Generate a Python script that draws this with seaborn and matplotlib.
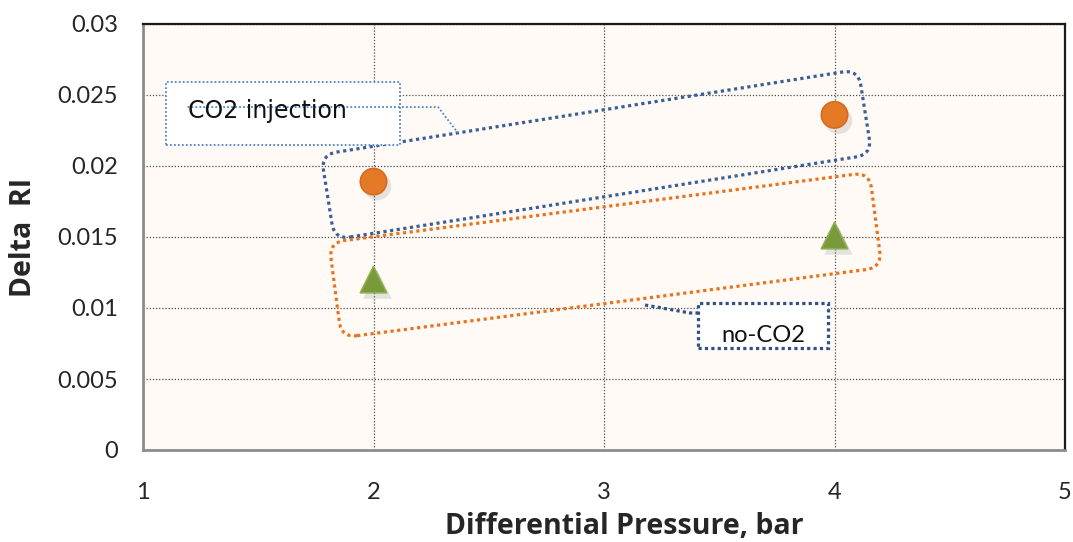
import numpy as np
import pandas as pd
import matplotlib
matplotlib.use("Agg")
import matplotlib.pyplot as plt
import seaborn as sns
from matplotlib.patches import FancyBboxPatch, Rectangle
from matplotlib.transforms import Affine2D, ScaledTranslation

# --- data -------------------------------------------------------------
pressure = [2, 4]
delta_ri_co2 = [0.0189, 0.0236]
delta_ri_no_co2 = [0.0120, 0.0151]
series_names = ["CO2 injection", "no-CO2"]
x_ticks = [1, 2, 3, 4, 5]
y_ticks = [0, 0.005, 0.01, 0.015, 0.02, 0.025, 0.03]
y_tick_labels = ["0", "0.005", "0.01", "0.015", "0.02", "0.025", "0.03"]

df = pd.DataFrame({
    "pressure": pressure * 2,
    "delta_ri": delta_ri_co2 + delta_ri_no_co2,
    "series": [series_names[0]] * 2 + [series_names[1]] * 2,
})

# --- style ------------------------------------------------------------
sns.set_style("white")
plt.rcParams["font.family"] = ["Lato", "DejaVu Sans"]
plt.rcParams["hatch.color"] = "#fbe6d4"
plt.rcParams["hatch.linewidth"] = 0.35

W, H = 1073, 542
fig = plt.figure(figsize=(W / 100, H / 100), dpi=100)
ax = fig.add_axes([143 / W, 1 - 450 / H, 922 / W, 426 / H])

ax.set_xlim(1, 5)
ax.set_ylim(0, 0.03)
ax.patch.set_facecolor("#fffaf6")
ax.patch.set_hatch("+++++")

# dotted major grid
ax.set_xticks(x_ticks)
ax.set_yticks(y_ticks)
ax.set_yticklabels(y_tick_labels)
ax.grid(True, color="#4d4d4d", linestyle=(0, (1, 1.5)), linewidth=0.9)
ax.set_axisbelow(True)

for side in ["left", "bottom"]:
    ax.spines[side].set_color("#8c8c8c")
    ax.spines[side].set_linewidth(2.0)
for side in ["top", "right"]:
    ax.spines[side].set_color("#1a1a1a")
    ax.spines[side].set_linewidth(1.6)

ax.tick_params(axis="x", length=0, pad=23, labelsize=17)
ax.tick_params(axis="y", length=0, pad=18, labelsize=17)

# --- callout frames (rotated rounded rectangles) -----------------------
def rotated_frame(cx, cy, w_px, h_px, angle, color, z):
    patch = FancyBboxPatch(
        (-w_px / 2, -h_px / 2), w_px, h_px,
        boxstyle="round,pad=0,rounding_size=16",
        facecolor="none", edgecolor=color, linewidth=2.3,
        linestyle=(0, (1, 1.1)), zorder=z,
        transform=Affine2D().rotate_deg(angle) + ScaledTranslation(cx, cy, ax.transData),
    )
    patch.set_capstyle("butt")
    ax.add_patch(patch)

rotated_frame(2.967, 0.02081, 544, 86, 9.0, "#3b5f94", 3)
rotated_frame(3.006, 0.01373, 545, 96, 7.4, "#e8731c", 3)

# --- markers with soft shadows ----------------------------------------
shadow = ax.transData + ScaledTranslation(2.5 / 72, -3.5 / 72, fig.dpi_scale_trans)
ax.scatter(pressure, delta_ri_co2, s=390, marker="o", color="#7f7f7f",
           alpha=0.2, linewidths=0, transform=shadow, zorder=4)
ax.scatter(pressure, delta_ri_no_co2, s=420, marker="^", color="#7f7f7f",
           alpha=0.2, linewidths=0, transform=shadow, zorder=4)

sns.scatterplot(
    data=df, x="pressure", y="delta_ri", hue="series", style="series",
    markers={series_names[0]: "o", series_names[1]: "^"},
    palette={series_names[0]: "#e57a26", series_names[1]: "#789a3b"},
    s=360, linewidth=1.2, edgecolor=["#d36c1e", "#d36c1e", "#8cae4e", "#8cae4e"],
    legend=False, ax=ax, zorder=5,
)

# --- callout label boxes ----------------------------------------------
ax.add_patch(Rectangle((1.10, 0.02148), 1.015, 0.00444, facecolor="white",
                       edgecolor="#4f86c9", linewidth=1.3,
                       linestyle=(0, (1, 1.2)), zorder=6))
ax.text(1.195, 0.02338, "CO2 injection", fontsize=17, family="DejaVu Sans",
        ha="left", va="baseline", color="#111111", zorder=7)
ax.plot([1.193, 2.280, 2.367], [0.02415, 0.02415, 0.02232], color="#4f86c9",
        linewidth=1.3, linestyle=(0, (1, 1.2)), zorder=6)

ax.add_patch(Rectangle((3.408, 0.00718), 0.564, 0.00317, facecolor="white",
                       edgecolor="#2f5185", linewidth=2.3,
                       linestyle=(0, (1, 1.0)), zorder=6))
ax.text(3.69, 0.00761, "no-CO2", fontsize=17, ha="center", va="baseline",
        color="#111111", zorder=7)
ax.plot([3.178, 3.373, 3.408], [0.01021, 0.00965, 0.00965], color="#2f5185",
        linewidth=2.3, linestyle=(0, (1, 1.0)), zorder=6)

# --- axis labels ------------------------------------------------------
label_font = dict(fontsize=20.5, fontweight="bold", family=["Open Sans", "DejaVu Sans"])
ax.set_xlabel("Differential Pressure, bar", **label_font)
ax.set_ylabel("Delta  RI", **label_font)
ax.xaxis.set_label_coords((624 - 143) / 922, -(512 - 450) / 426)
ax.yaxis.set_label_coords(-(143 - 38) / 922, 0.5)

fig.savefig("out.png", dpi=100)
